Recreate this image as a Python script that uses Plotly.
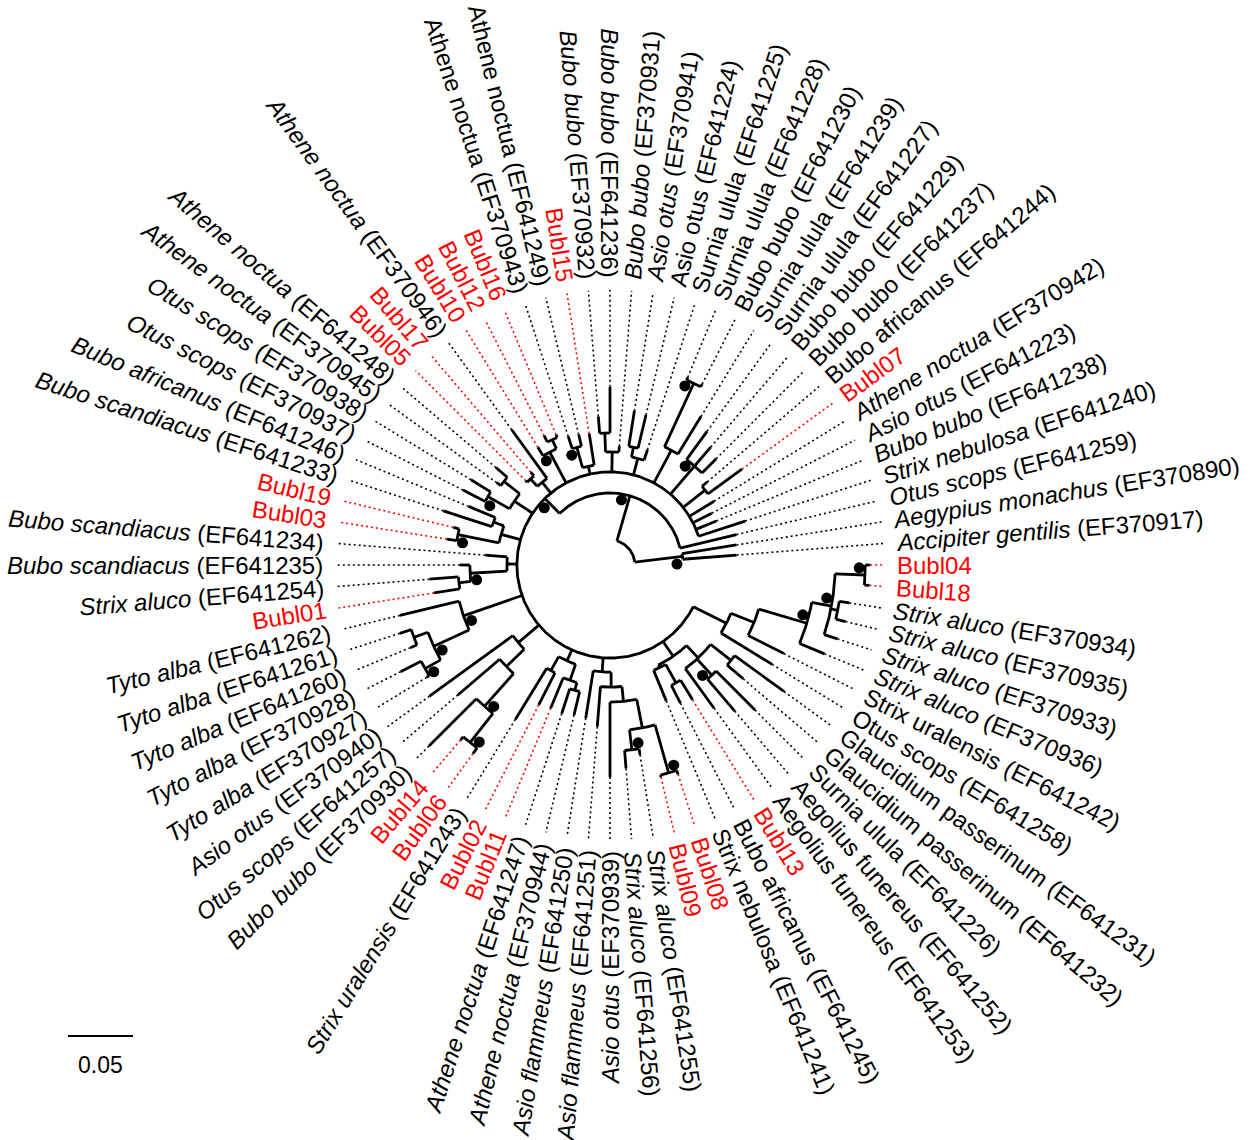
import math
import plotly.graph_objects as go

# ---------------- data ----------------
# Tree topology with branch lengths (substitutions/site); "*" / "#" mark supported nodes
tree_newick = """
((EF370917:0.0415,EF370890:0.0423)#:0.0369,
 (EF641259:0.0446,
  (EF641240:0.0377,EF641238:0.0169,EF641223:0.0162,EF370942:0.0223,
   (Bubl07:0.0323,EF641244:0.0054):0.0215,
   (EF641237:0.0154,EF641229:0.0192,EF641227:0.0269)*:0.0285,
   (EF641239:0.0338,(EF641230:0.0023,EF641228:0.0023)*:0.0538):0.0285,
   (EF641225:0.0085,(EF641224:0.0262,EF370941:0.0277):0.0077):0.0131,
   (EF370931:0.0046,(EF641236:0.0354,EF370932:0.0131):0.0146):0.0154,
   (Bubl15:0.0246,(EF641249:0.0092,EF370943:0.0100)*:0.0162):0.0062,
   ((Bubl16:0.0023,Bubl12:0.0054):0.0077,Bubl10:0.0077)*:0.0269,
   (EF370946:0.0462,(Bubl17:0.0038,Bubl05:0.0015):0.0077):0.0108,
   ((EF641248:0.0115,EF370945:0.0038):0.0154,(EF370938:0.0177,EF370937:0.0192)*:0.0192):0.0169,
   ((EF641246:0.0223,EF641233:0.0392):0.0085,(Bubl19:0.0046,Bubl03:0.0077)*:0.0323):0.0154,
   (EF641234:0.0169,(EF641235:0.0077,(EF641254:0.0223,Bubl01:0.0200):0.0092)*:0.0285):0.0077,
   (EF641262:0.0469,((EF641261:0.0092,EF641260:0.0054):0.0115,(EF370928:0.0177,EF370927:0.0023)*:0.0138)*:0.0300)*:0.0477,
   (EF370940:0.0792,(EF641257:0.0423,(EF370930:0.0515,(Bubl14:0.0031,Bubl06:0.0054)*:0.0285)*:0.0338):0.0192):0.0208,
   ((EF641243:0.0462,Bubl02:0.0277):0.0123,(Bubl11:0.0254,(EF641247:0.0200,EF370944:0.0185):0.0062):0.0131):0.0092,
   (EF641250:0.0369,(EF641251:0.0308,(EF370939:0.0577,((EF641256:0.0138,EF641255:0.0046)*:0.0154,(Bubl09:0.0015,Bubl08:0.0031)*:0.0385):0.0223):0.0115):0.0115):0.0108,
   ((EF641241:0.0254,(EF641245:0.0154,Bubl13:0.0177):0.0162):0.0023,(EF641253:0.0377,(EF641252:0.0323,EF641226:0.0423)#:0.0169,(EF641232:0.0162,EF641231:0.0469):0.0200):0.0131):0.0138,
   (EF641258:0.0462,(EF641242:0.0308,(EF370936:0.0208,(EF370933:0.0108,(EF370935:0.0077,EF370934:0.0077):0.0054,(Bubl18:0.0038,Bubl04:0.0038)*:0.0231)*:0.0154)*:0.0385):0.0192):0.0285
  )*:0.0162
 )*:0.0362
);
"""

tip_codes = [
    "EF370917", "EF370890", "EF641259", "EF641240", "EF641238", "EF641223", "EF370942", "Bubl07",
    "EF641244", "EF641237", "EF641229", "EF641227", "EF641239", "EF641230", "EF641228", "EF641225",
    "EF641224", "EF370941", "EF370931", "EF641236", "EF370932", "Bubl15", "EF641249", "EF370943",
    "Bubl16", "Bubl12", "Bubl10", "EF370946", "Bubl17", "Bubl05", "EF641248", "EF370945",
    "EF370938", "EF370937", "EF641246", "EF641233", "Bubl19", "Bubl03", "EF641234", "EF641235",
    "EF641254", "Bubl01", "EF641262", "EF641261", "EF641260", "EF370928", "EF370927", "EF370940",
    "EF641257", "EF370930", "Bubl14", "Bubl06", "EF641243", "Bubl02", "Bubl11", "EF641247",
    "EF370944", "EF641250", "EF641251", "EF370939", "EF641256", "EF641255", "Bubl09", "Bubl08",
    "EF641241", "EF641245", "Bubl13", "EF641253", "EF641252", "EF641226", "EF641232", "EF641231",
    "EF641258", "EF641242", "EF370936", "EF370933", "EF370935", "EF370934", "Bubl18", "Bubl04",
]
tip_species = [
    "Accipiter gentilis", "Aegypius monachus", "Otus scops", "Strix nebulosa", "Bubo bubo", "Asio otus", "Athene noctua", "",
    "Bubo africanus", "Bubo bubo", "Bubo bubo", "Surnia ulula", "Surnia ulula", "Bubo bubo", "Surnia ulula", "Surnia ulula",
    "Asio otus", "Asio otus", "Bubo bubo", "Bubo bubo", "Bubo bubo", "", "Athene noctua", "Athene noctua",
    "", "", "", "Athene noctua", "", "", "Athene noctua", "Athene noctua",
    "Otus scops", "Otus scops", "Bubo africanus", "Bubo scandiacus", "", "", "Bubo scandiacus", "Bubo scandiacus",
    "Strix aluco", "", "Tyto alba", "Tyto alba", "Tyto alba", "Tyto alba", "Tyto alba", "Asio otus",
    "Otus scops", "Bubo bubo", "", "", "Strix uralensis", "", "", "Athene noctua",
    "Athene noctua", "Asio flammeus", "Asio flammeus", "Asio otus", "Strix aluco", "Strix aluco", "", "",
    "Strix nebulosa", "Bubo africanus", "", "Aegolius funereus", "Aegolius funereus", "Surnia ulula", "Glaucidium passerinum", "Glaucidium passerinum",
    "Otus scops", "Strix uralensis", "Strix aluco", "Strix aluco", "Strix aluco", "Strix aluco", "", "",
]
upright_codes = [
    "EF641224", "EF641225", "EF641228", "EF641230", "EF641239", "EF641227", "EF641229", "EF641237",
    "EF641244", "EF370943", "EF641249", "EF641241", "EF641245", "EF641253", "EF641252", "EF641226",
    "EF641232", "EF641231", "EF641258", "EF641242",
]
scale_bar_value = 0.05

# ---------------- layout constants ----------------
W, H = 1250, 1140
CX, CY = 610.0, 565.0
PX_PER_UNIT = 1300.0
ROOT_R = 25.0
DOT_END_R = 275.0
LABEL_R = 287.0
FONT = "Liberation Sans, Arial, Helvetica, sans-serif"
FS = 24

species_of = dict(zip(tip_codes, tip_species))


def parse_newick(text):
    s = "".join(text.split()).rstrip(";")
    pos = 0

    def node():
        nonlocal pos
        n = {"children": [], "name": "", "length": 0.0}
        if s[pos] == "(":
            pos += 1
            while True:
                n["children"].append(node())
                if s[pos] == ",":
                    pos += 1
                    continue
                pos += 1  # ')'
                break
        st = pos
        while pos < len(s) and s[pos] not in ",):":
            pos += 1
        n["name"] = s[st:pos]
        if pos < len(s) and s[pos] == ":":
            pos += 1
            st = pos
            while pos < len(s) and s[pos] not in ",)":
                pos += 1
            n["length"] = float(s[st:pos])
        return n

    return node()


root = parse_newick(tree_newick)
tips = []
internals = []


def assign_depth(n, d):
    n["depth"] = d
    if n["children"]:
        internals.append(n)
        for c in n["children"]:
            assign_depth(c, d + c["length"])
    else:
        tips.append(n)


assign_depth(root, 0.0)
step = 360.0 / len(tips)
for k, t in enumerate(tips):
    t["angle"] = step * (k + 1)


def set_angle(n):
    if n["children"]:
        for c in n["children"]:
            set_angle(c)
        n["angle"] = sum(c["angle"] for c in n["children"]) / len(n["children"])


set_angle(root)


def rad(n):
    return ROOT_R + PX_PER_UNIT * n["depth"]


def xy(r, ang):
    a = math.radians(ang)
    return CX + r * math.cos(a), CY - r * math.sin(a)


# branches
bx, by = [], []
for n in internals:
    r = rad(n)
    a1 = min(c["angle"] for c in n["children"])
    a2 = max(c["angle"] for c in n["children"])
    steps = max(2, int((a2 - a1) / 0.5) + 1)
    for i in range(steps + 1):
        x, y = xy(r, a1 + (a2 - a1) * i / steps)
        bx.append(x)
        by.append(y)
    bx.append(None)
    by.append(None)
    for c in n["children"]:
        x0, y0 = xy(r, c["angle"])
        x1, y1 = xy(rad(c), c["angle"])
        bx += [x0, x1, None]
        by += [y0, y1, None]

# dotted leaders
dots = {"red": ([], []), "black": ([], [])}
for t in tips:
    col = "red" if t["name"].startswith("Bubl") else "black"
    x0, y0 = xy(rad(t), t["angle"])
    x1, y1 = xy(DOT_END_R, t["angle"])
    dots[col][0].extend([x0, x1, None])
    dots[col][1].extend([y0, y1, None])

# support dots
sx, sy = [], []
for n in internals:
    if n["name"] in ("*", "#"):
        r = rad(n) - 6
        side = 1 if n["name"] == "*" else -1
        ang = n["angle"] + side * math.degrees(7.0 / r)
        x, y = xy(r, ang)
        sx.append(x)
        sy.append(y)

fig = go.Figure()
for col, (xs, ys) in dots.items():
    fig.add_trace(go.Scatter(x=xs, y=ys, mode="lines", hoverinfo="skip",
                             line=dict(color="#ff0000" if col == "red" else "#000000",
                                       width=1.6, dash="2px,3px")))
fig.add_trace(go.Scatter(x=bx, y=by, mode="lines", hoverinfo="skip",
                         line=dict(color="black", width=2.8)))
fig.add_trace(go.Scatter(x=sx, y=sy, mode="markers", hoverinfo="skip",
                         marker=dict(color="black", size=11, line=dict(width=0))))

# text widths (Arial/Liberation Sans metrics, per 1000 em)
CW = {' ': 278, '(': 333, ')': 333, 'A': 667, 'B': 667, 'E': 667, 'F': 611, 'G': 778, 'O': 778,
      'S': 667, 'T': 611, 'a': 556, 'b': 556, 'c': 500, 'd': 556, 'e': 556, 'f': 278, 'g': 556,
      'h': 556, 'i': 222, 'j': 222, 'k': 500, 'l': 222, 'm': 833, 'n': 556, 'o': 556, 'p': 556,
      'q': 556, 'r': 333, 's': 500, 't': 278, 'u': 556, 'v': 500, 'w': 722, 'x': 500, 'y': 500, 'z': 500}


def twidth(s):
    return sum(CW.get(ch, 556) for ch in s) * FS / 1000.0


annotations = []
for t in tips:
    code = t["name"]
    sp = species_of.get(code, "")
    if sp:
        plain = f"{sp} ({code})"
        shown = plain if code in upright_codes else f"<i>{sp}</i> ({code})"
        color = "#000000"
    else:
        plain = code
        shown = code
        color = "#ff0000"
    w = twidth(plain)
    ang = t["angle"] % 360.0
    x, y = xy(LABEL_R + w / 2.0, ang)
    if 90.0 <= ang <= 270.0:
        tang = 180.0 - ang
    else:
        tang = -ang
    annotations.append(dict(x=x, y=y, xref="x", yref="y", text=shown, showarrow=False,
                            textangle=tang, xanchor="center", yanchor="middle",
                            font=dict(family=FONT, size=FS, color=color)))

# scale bar
sb_x0, sb_y = 68.0, 1036.0
sb_x1 = sb_x0 + scale_bar_value * PX_PER_UNIT
fig.add_trace(go.Scatter(x=[sb_x0, sb_x1], y=[sb_y, sb_y], mode="lines", hoverinfo="skip",
                         line=dict(color="black", width=2.2)))
annotations.append(dict(x=(sb_x0 + sb_x1) / 2, y=1065, xref="x", yref="y", text=f"{scale_bar_value:.2f}",
                        showarrow=False, xanchor="center", yanchor="middle",
                        font=dict(family=FONT, size=FS - 1, color="black")))

fig.update_layout(
    width=W, height=H, margin=dict(l=0, r=0, t=0, b=0),
    paper_bgcolor="white", plot_bgcolor="white", showlegend=False,
    xaxis=dict(range=[0, W], visible=False, fixedrange=True),
    yaxis=dict(range=[H, 0], visible=False, fixedrange=True),
    annotations=annotations,
)
fig.write_html("out.html", config={"displayModeBar": False, "staticPlot": True},
               post_script="document.body.style.margin='0';document.body.style.overflow='hidden';")
